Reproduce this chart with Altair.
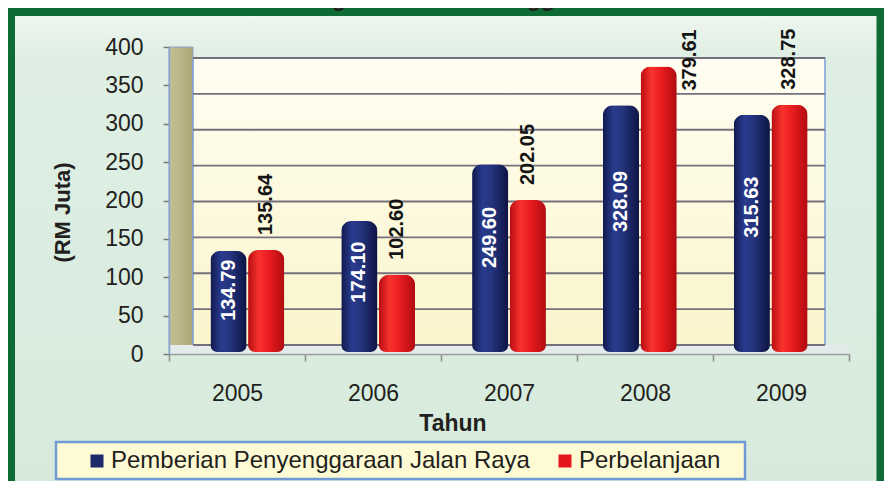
import altair as alt
import pandas as pd

# ---------------- data ----------------
years = ["2005", "2006", "2007", "2008", "2009"]
series_names = ["Pemberian Penyenggaraan Jalan Raya", "Perbelanjaan"]
pemberian = [134.79, 174.10, 249.60, 328.09, 315.63]
perbelanjaan = [135.64, 102.60, 202.05, 379.61, 328.75]
y_ticks = [0, 50, 100, 150, 200, 250, 300, 350, 400]
title_text = "Bagi Tahun 2005 Hingga 2009"
x_title = "Tahun"
y_title = "(RM Juta)"
series_colors = ["#1E2A6C", "#E5161D"]

rows = []
for i, yr in enumerate(years):
    rows.append({"year": yr, "series": series_names[0], "value": pemberian[i]})
    rows.append({"year": yr, "series": series_names[1], "value": perbelanjaan[i]})
df = pd.DataFrame(rows)
grid_df = pd.DataFrame({"v": y_ticks})
year_df = pd.DataFrame({"year": years})
one = pd.DataFrame({"k": [0]})

FONT = "Liberation Sans"
TXT = "#231F20"
W, H = 680, 307


def grad(stops, horizontal=True):
    return alt.Gradient(
        gradient="linear",
        stops=[alt.GradientStop(color=c, offset=o) for o, c in stops],
        x1=0, x2=1 if horizontal else 0, y1=0, y2=0 if horizontal else 1,
    )


X_BACK = alt.Scale(type="band", domain=years, paddingInner=0.4355, paddingOuter=0.3166)
X_FRONT = alt.Scale(type="band", domain=years, paddingInner=0, paddingOuter=0)
XOFF = alt.Scale(domain=series_names, paddingInner=0.04)
Y_MAIN = alt.Scale(domain=[0, 400], nice=False, zero=True)
# bars stand slightly behind the axis plane (3-D perspective of the original)
Y_BAR = alt.Scale(domain=[-2.66, 405.6], nice=False, zero=False)
Y_WALL = alt.Scale(domain=[-12.54, 415.33], nice=False, zero=False)

# ---------------- decorations ----------------
frame = alt.Chart(one).mark_rect(
    fill=grad([(0, "#EFF6EF"), (0.08, "#DFEFE4"), (1, "#D5EADB")], horizontal=False),
    stroke="#0E6B35", strokeWidth=8,
).encode(x=alt.value(-158), x2=alt.value(711.5), y=alt.value(-35), y2=alt.value(520))

title = alt.Chart(one).mark_text(
    text=title_text, fontSize=23, fontWeight="bold", font=FONT, color=TXT,
    align="center", baseline="alphabetic",
).encode(x=alt.value(295), y=alt.value(-41))

side_wall = alt.Chart(one).mark_rect(
    fill=grad([(0, "#C4C096"), (1, "#ADA874")]), stroke="#8AA3CF", strokeWidth=1,
).encode(x=alt.value(0), x2=alt.value(24), y=alt.value(0), y2=alt.value(H))

back_wall = alt.Chart(one).mark_rect(
    fill=grad([(0, "#FFFEF2"), (1, "#FAF5CC")], horizontal=False),
    stroke="#7C9DD8", strokeWidth=1.5,
).encode(x=alt.value(24), x2=alt.value(656), y=alt.value(11), y2=alt.value(298))

floor = alt.Chart(one).mark_rect(fill="#E3ECEA").encode(
    x=alt.value(0), x2=alt.value(W), y=alt.value(298), y2=alt.value(H))

grid = alt.Chart(grid_df).mark_rule(color="#75717C", strokeWidth=1.8).encode(
    y=alt.Y("v:Q", scale=Y_WALL, axis=None), x=alt.value(24), x2=alt.value(656))

legend_box = alt.Chart(one).mark_rect(
    fill="#FDFAD4", stroke="#6F9AD6", strokeWidth=2.5,
).encode(x=alt.value(-113), x2=alt.value(576), y=alt.value(395), y2=alt.value(432))

# ---------------- axes ----------------
x_axis_layer = alt.Chart(year_df).mark_point(opacity=0).encode(
    x=alt.X("year:O", scale=X_FRONT, title=x_title, axis=alt.Axis(
        zindex=1, tickBand="extent", domainColor="#9A9A9A", domainWidth=1.5,
        tickColor="#8A8A8A", tickSize=7, tickWidth=1.5,
        labelFontSize=23, labelFont=FONT, labelColor=TXT, labelPadding=21, labelAngle=0,
        titleFontSize=23, titleFont=FONT, titleFontWeight="bold", titleColor=TXT,
        titleX=283.5, titleY=76, titleBaseline="alphabetic", titleAlign="center",
        grid=False)),
    y=alt.value(0),
)

x_enc = alt.X("year:N", scale=X_BACK, axis=None)
xo_enc = alt.XOffset("series:N", scale=XOFF, sort=series_names)

corner = dict(cornerRadiusTopLeft=10, cornerRadiusTopRight=10,
              cornerRadiusBottomLeft=7, cornerRadiusBottomRight=7)

# y axis + legend come from this layer (plain colours, covered by gradient bars)
bars_base = alt.Chart(df).mark_bar(**corner).encode(
    x=x_enc, xOffset=xo_enc,
    y=alt.Y("value:Q", scale=Y_MAIN, title=y_title, axis=alt.Axis(
        zindex=1, values=y_ticks, domainColor="#8AA3CF", domainWidth=1.5,
        tickColor="#7A7A7A", tickSize=6, tickWidth=1.5,
        labelFontSize=23, labelFont=FONT, labelColor=TXT, labelPadding=20,
        titleFontSize=22, titleFont=FONT, titleFontWeight="bold", titleColor=TXT,
        titleX=-107, titleY=165, titleAngle=270, titleBaseline="middle", titleAlign="center",
        grid=False)),
    color=alt.Color("series:N", scale=alt.Scale(domain=series_names, range=series_colors),
                    legend=alt.Legend(
                        orient="none", legendX=-84, legendY=402, direction="horizontal",
                        title=None, symbolType="square", symbolSize=169, symbolStrokeWidth=0,
                        labelFontSize=24, labelFont=FONT, labelColor=TXT, labelOffset=2,
                        labelLimit=800, columnPadding=23, padding=0)),
    opacity=alt.value(0),
)

blue_grad = grad([(0, "#111A4E"), (0.3, "#2A3B8E"), (0.55, "#24347C"), (1, "#0D1444")])
red_grad = grad([(0, "#B80D12"), (0.3, "#F8332E"), (0.55, "#EC1D21"), (1, "#B00C10")])

bars_blue = alt.Chart(df).transform_filter(alt.datum.series == series_names[0]).mark_bar(
    fill=blue_grad, **corner
).encode(x=x_enc, xOffset=xo_enc, y=alt.Y("value:Q", scale=Y_BAR, axis=None))

bars_red = alt.Chart(df).transform_filter(alt.datum.series == series_names[1]).mark_bar(
    fill=red_grad, **corner
).encode(x=x_enc, xOffset=xo_enc, y=alt.Y("value:Q", scale=Y_BAR, axis=None))

# ---------------- value labels ----------------
lab_blue = alt.Chart(df).transform_filter(alt.datum.series == series_names[0]).transform_calculate(
    ly="datum.value * 0.61"
).mark_text(angle=270, align="center", baseline="middle", fontSize=20, fontWeight="bold",
            font=FONT, color="white").encode(
    x=x_enc, xOffset=xo_enc, y=alt.Y("ly:Q", scale=Y_BAR, axis=None),
    text=alt.Text("value:Q", format=".2f"))

lab_red = alt.Chart(df).transform_filter(
    (alt.datum.series == series_names[1]) & (alt.datum.value < 350)
).mark_text(angle=270, align="left", baseline="middle", fontSize=20, fontWeight="bold",
            font=FONT, color="#151515", dx=15).encode(
    x=x_enc, xOffset=xo_enc, y=alt.Y("value:Q", scale=Y_BAR, axis=None),
    text=alt.Text("value:Q", format=".2f"))

lab_red_top = alt.Chart(df).transform_filter(
    (alt.datum.series == series_names[1]) & (alt.datum.value >= 350)
).mark_text(angle=270, align="left", baseline="middle", fontSize=20, fontWeight="bold",
            font=FONT, color="#151515", dx=-24, dy=31).encode(
    x=x_enc, xOffset=xo_enc, y=alt.Y("value:Q", scale=Y_BAR, axis=None),
    text=alt.Text("value:Q", format=".2f"))

chart = alt.layer(
    frame, title, legend_box, side_wall, back_wall, floor, grid, x_axis_layer,
    bars_base, bars_blue, bars_red, lab_blue, lab_red, lab_red_top,
).resolve_scale(
    x="independent", y="independent"
).properties(
    width=W, height=H,
    padding={"left": 161, "top": 39, "right": 35, "bottom": 127},
    autosize=alt.AutoSizeParams(type="none"),
    background="white",
).configure_view(stroke=None)

chart.save("out.html", embed_options={"renderer": "svg", "actions": False})
